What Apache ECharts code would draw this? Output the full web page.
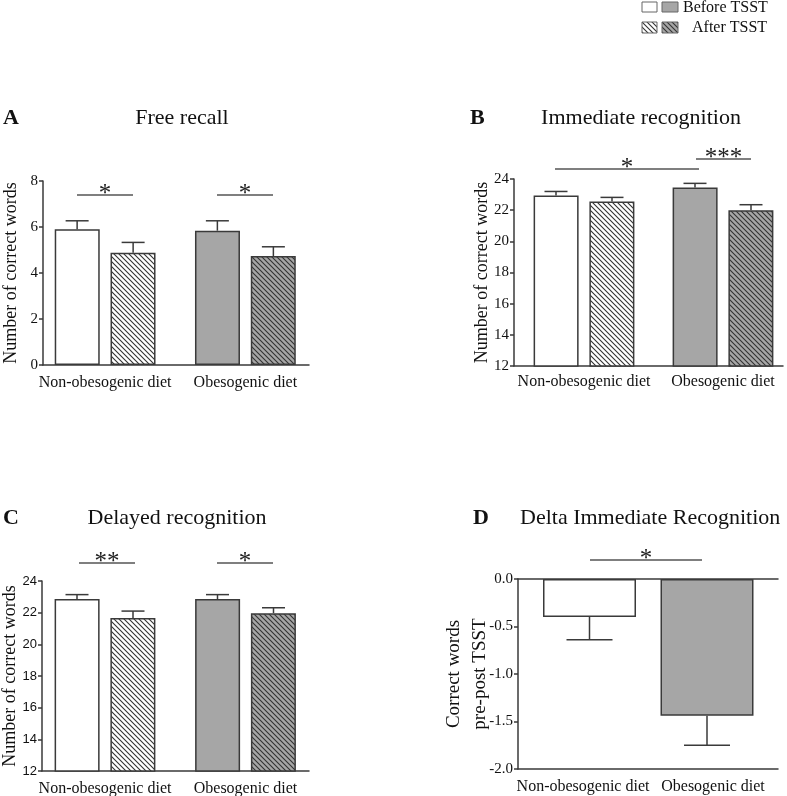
<!DOCTYPE html>
<html>
<head>
<meta charset="utf-8">
<script src="https://cdn.jsdelivr.net/npm/echarts@6/dist/echarts.min.js"></script>
<style>
  html, body { margin: 0; padding: 0; background: #fff; }
  #main { width: 787px; height: 796px; }
</style>
</head>
<body>
<div id="main"></div>
<script>
// data (means and SEM)
const categories = ['Non-obesogenic diet', 'Obesogenic diet'];

const freeBefore = [5.90, 5.84];
const freeBeforeSem = [0.37, 0.43];
const freeAfter = [4.88, 4.74];
const freeAfterSem = [0.45, 0.40];

const immBefore = [22.94, 23.46];
const immBeforeSem = [0.26, 0.26];
const immAfter = [22.56, 22.00];
const immAfterSem = [0.26, 0.35];

const delBefore = [22.86, 22.86];
const delBeforeSem = [0.28, 0.28];
const delAfter = [21.66, 21.97];
const delAfterSem = [0.44, 0.34];

const deltaImm = [-0.40, -1.44];
const deltaImmSem = [0.24, 0.31];

const serif = 'Liberation Serif';
const sans = 'Liberation Sans';
const edge = '#3a3a3a';
const grey = '#a6a6a6';

function hatch(bg) {
  const s = 5;
  const c = document.createElement('canvas');
  c.width = s; c.height = s;
  const ctx = c.getContext('2d');
  ctx.fillStyle = bg;
  ctx.fillRect(0, 0, s, s);
  ctx.strokeStyle = '#333';
  ctx.lineWidth = 1.1;
  ctx.beginPath();
  ctx.moveTo(-1, -1); ctx.lineTo(s + 1, s + 1);
  ctx.moveTo(-1, s - 1); ctx.lineTo(1, s + 1);
  ctx.moveTo(s - 1, -1); ctx.lineTo(s + 1, 1);
  ctx.stroke();
  return c;
}

const fillBefore = ['#ffffff', grey];
const fillAfter = [{ image: hatch('#ffffff'), repeat: 'repeat' }, { image: hatch(grey), repeat: 'repeat' }];

function errRender(offset, cap) {
  return function (params, api) {
    const p0 = api.coord([api.value(0), api.value(1)]);
    const p1 = api.coord([api.value(0), api.value(2)]);
    const x = p0[0] + offset;
    const st = { stroke: edge, lineWidth: 1.5 };
    return {
      type: 'group',
      children: [
        { type: 'line', shape: { x1: x, y1: p0[1], x2: x, y2: p1[1] }, style: st },
        { type: 'line', shape: { x1: x - cap / 2, y1: p1[1], x2: x + cap / 2, y2: p1[1] }, style: st }
      ]
    };
  };
}

// each panel: a visible "frame" grid for the axis lines and a data grid for bars + category labels
// (the data grid is a bit wider so the two bar groups sit where the original put them)
const panels = [
  { frame: { left: 43, top: 181, width: 266, height: 184 }, data: { left: 35, width: 280.5 },
    min: 0, max: 8, step: 2, name: 'Number of correct words', gap: 19, font: serif, size: 15 },
  { frame: { left: 514, top: 179, width: 269, height: 187 }, data: { left: 514.5, width: 278 },
    min: 12, max: 24, step: 2, name: 'Number of correct words', gap: 19, font: serif, size: 15 },
  { frame: { left: 42, top: 581, width: 267, height: 190 }, data: { left: 34.75, width: 281 },
    min: 12, max: 24, step: 2, name: 'Number of correct words', gap: 19, font: sans, size: 13 },
  { frame: { left: 518, top: 579, width: 260, height: 190 }, data: { left: 530.75, width: 235 },
    min: -2, max: 0, step: 0.5, name: 'Correct words\npre-post TSST', gap: 25, font: serif, size: 15 }
];

const grid = [];
const xAxes = [];
const yAxes = [];
const lineStyle = { color: edge, width: 1.5 };
const catLabel = { color: '#111', fontFamily: serif, fontSize: 16, margin: 10, interval: 0, hideOverlap: false };

panels.forEach((p, k) => {
  const fi = grid.length;
  grid.push(Object.assign({ containLabel: false, outerBoundsMode: 'none' }, p.frame));
  const di = grid.length;
  grid.push({ containLabel: false, outerBoundsMode: 'none', left: p.data.left, width: p.data.width,
    top: p.frame.top, height: p.frame.height });

  // frame axes (panel D keeps its category labels on the frame axis)
  xAxes.push({ type: 'category', gridIndex: fi, data: categories,
    axisLine: { onZero: false, lineStyle: lineStyle }, axisTick: { show: false },
    axisLabel: k === 3 ? catLabel : { show: false } });
  if (k === 3) {
    xAxes.push({ type: 'category', gridIndex: fi, position: 'top', data: categories,
      axisLine: { onZero: false, lineStyle: lineStyle }, axisTick: { show: false }, axisLabel: { show: false } });
  }
  yAxes.push({
    type: 'value', gridIndex: fi, min: p.min, max: p.max, interval: p.step,
    name: p.name, nameLocation: 'middle', nameGap: p.gap, nameMoveOverlap: false,
    nameTextStyle: { color: '#111', fontFamily: serif, fontSize: k === 3 ? 19 : 18, lineHeight: 26 },
    axisLine: { show: true, lineStyle: lineStyle },
    axisTick: { show: true, length: 4, lineStyle: lineStyle },
    axisLabel: { color: '#111', fontFamily: p.font, fontSize: p.size, margin: 5,
      formatter: v => (p.step < 1 ? v.toFixed(1) : String(v)) },
    splitLine: { show: false }
  });

  // data axes
  p.xi = xAxes.length;
  xAxes.push({ type: 'category', gridIndex: di, data: categories,
    axisLine: { show: false }, axisTick: { show: false },
    axisLabel: k === 3 ? { show: false } : Object.assign({}, catLabel, { margin: k === 1 ? 8 : 10 }) });
  p.yi = yAxes.length;
  yAxes.push({ type: 'value', gridIndex: di, min: p.min, max: p.max, interval: p.step,
    axisLine: { show: false }, axisTick: { show: false }, axisLabel: { show: false }, splitLine: { show: false } });
});

function barSeries(p, vals, fills, width, gap) {
  return {
    type: 'bar', xAxisIndex: p.xi, yAxisIndex: p.yi,
    barWidth: width, barGap: gap,
    data: vals.map((v, i) => ({ value: v, itemStyle: { color: fills[i] } })),
    itemStyle: { borderColor: edge, borderWidth: 1.5 },
    silent: true
  };
}

function errSeries(p, vals, sem, offset, cap, dir) {
  return {
    type: 'custom', xAxisIndex: p.xi, yAxisIndex: p.yi,
    renderItem: errRender(offset, cap),
    encode: { x: 0, y: 1 },
    data: vals.map((v, i) => [i, v, v + dir * sem[i]]),
    z: 5, silent: true
  };
}

function groupPanel(p, b, bs, a, as) {
  return [
    barSeries(p, b, fillBefore, 45, '24%'),
    barSeries(p, a, fillAfter, 45, '24%'),
    errSeries(p, b, bs, -28, 23, 1),
    errSeries(p, a, as, 28, 23, 1)
  ];
}

function txt(x, y, s, size, opts) {
  return {
    type: 'text', x: x, y: y, silent: true,
    style: Object.assign({
      text: s, fontFamily: serif, fontSize: size, fill: '#111',
      align: 'left', verticalAlign: 'middle'
    }, opts || {})
  };
}

function sig(x1, x2, y, stars) {
  return [
    { type: 'line', silent: true, shape: { x1: x1, y1: y, x2: x2, y2: y }, style: { stroke: '#555', lineWidth: 1.5 } },
    txt((x1 + x2) / 2, y + 12, stars, 25, { align: 'center', verticalAlign: 'bottom', fill: '#222' })
  ];
}

const graphics = [].concat(
  // panel titles
  [
    txt(3, 118, 'A', 22, { fontWeight: 'bold' }),
    txt(182, 118, 'Free recall', 22, { align: 'center' }),
    txt(470, 118, 'B', 22, { fontWeight: 'bold' }),
    txt(641, 118, 'Immediate recognition', 22, { align: 'center' }),
    txt(3, 518, 'C', 22, { fontWeight: 'bold' }),
    txt(177, 518, 'Delayed recognition', 22, { align: 'center' }),
    txt(473, 518, 'D', 22, { fontWeight: 'bold' }),
    txt(520, 518, 'Delta Immediate Recognition', 22)
  ],
  // legend
  [
    { type: 'rect', silent: true, shape: { x: 642, y: 2, width: 15, height: 10 }, style: { fill: '#fff', stroke: '#666', lineWidth: 1 } },
    { type: 'rect', silent: true, shape: { x: 662, y: 2, width: 16, height: 10 }, style: { fill: grey, stroke: '#666', lineWidth: 1 } },
    { type: 'rect', silent: true, shape: { x: 642, y: 22, width: 15, height: 11 }, style: { fill: fillAfter[0], stroke: '#666', lineWidth: 1 } },
    { type: 'rect', silent: true, shape: { x: 662, y: 22, width: 16, height: 11 }, style: { fill: fillAfter[1], stroke: '#666', lineWidth: 1 } },
    txt(683, 8, 'Before TSST', 16),
    txt(692, 28, 'After TSST', 16)
  ],
  // significance brackets
  sig(77, 133, 195, '*'),
  sig(217, 273, 195, '*'),
  sig(555, 699, 169, '*'),
  sig(696, 751, 159, '***'),
  sig(79, 135, 563, '**'),
  sig(217, 273, 563, '*'),
  sig(590, 702, 560, '*')
);

const chart = echarts.init(document.getElementById('main'), null, { renderer: 'canvas' });

chart.setOption({
  backgroundColor: '#fff',
  animation: false,
  grid: grid,
  xAxis: xAxes,
  yAxis: yAxes,
  series: [].concat(
    groupPanel(panels[0], freeBefore, freeBeforeSem, freeAfter, freeAfterSem),
    groupPanel(panels[1], immBefore, immBeforeSem, immAfter, immAfterSem),
    groupPanel(panels[2], delBefore, delBeforeSem, delAfter, delAfterSem),
    [
      barSeries(panels[3], deltaImm, fillBefore, 93, '24%'),
      errSeries(panels[3], deltaImm, deltaImmSem, 0, 46, -1)
    ]
  ),
  graphic: graphics
});
</script>
</body>
</html>
